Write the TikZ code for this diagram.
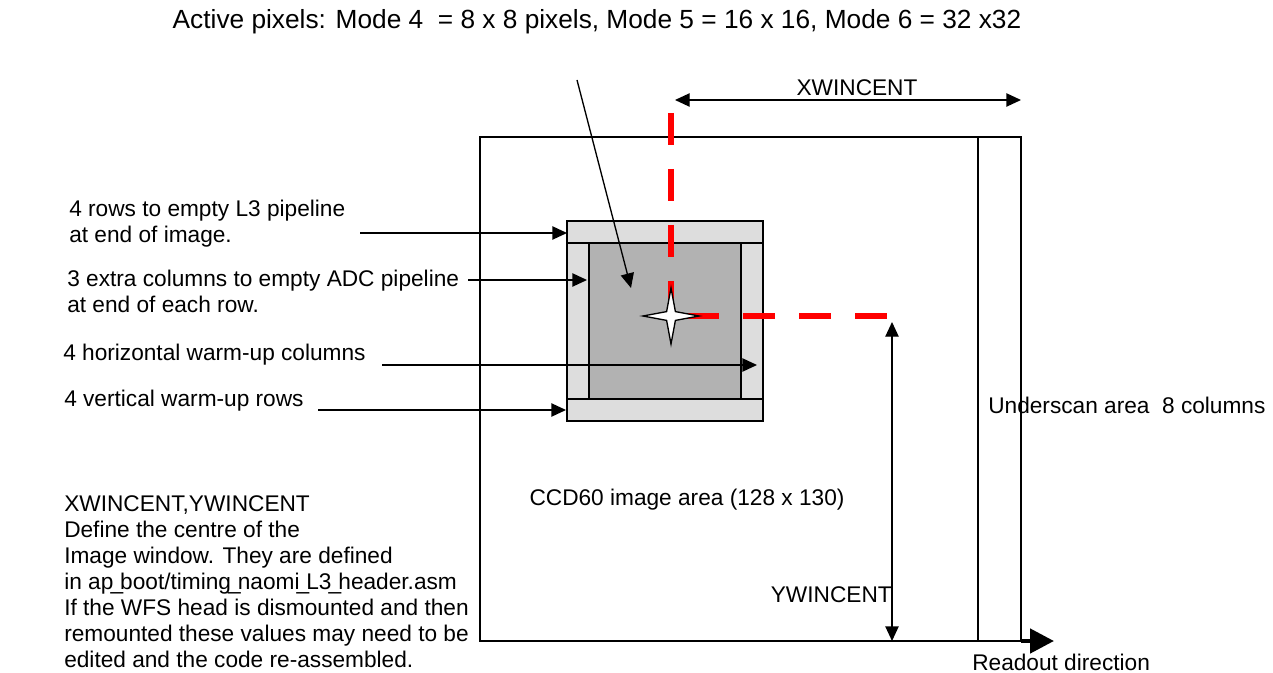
\documentclass[tikz,border=0pt]{standalone}
\usepackage{fontspec}
\setmainfont{Liberation Sans}
\usetikzlibrary{arrows.meta,positioning,calc,shapes.geometric}
\definecolor{stripgrey}{HTML}{DDDDDD}
\definecolor{activegrey}{HTML}{B2B2B2}
\definecolor{centrered}{HTML}{FF0000}
\newcommand{\txtsize}{\fontsize{17}{19.5}\selectfont}
\newcommand{\headsize}{\fontsize{19.7}{22}\selectfont}
\newcommand{\usc}{\makebox[0.3em]{\_}}

\begin{document}
\begin{tikzpicture}[x=0.75pt,y=-0.75pt,>={Triangle[length=11pt,width=10pt]},
  every node/.style={font=\txtsize,inner sep=0pt},
  winbox/.style={draw,line width=1pt},
  reddash/.style={centrered,line width=5pt,dash pattern=on 24pt off 18pt},
  pointer/.style={->,line width=1pt}]
\useasboundingbox (0,0) rectangle (1273,673);
% CCD image area and underscan columns
\draw[line width=1.4pt] (480,137) rectangle (978,641);
\draw[line width=1.4pt] (978,137) rectangle (1021,641);
% Image window
\draw[winbox,fill=stripgrey] (567,221) rectangle (763,421);
\draw[winbox] (567,243) -- (763,243) (567,399) -- (763,399);
\draw[winbox,fill=activegrey] (589,243) rectangle (741,399);
% Window centre
\coordinate (centre) at (671,316);
\coordinate (xtop) at (671,113);
\coordinate (yright) at (887,316);
\draw[reddash] (xtop) -- (centre);
\draw[reddash,dash phase=30pt] (centre) -- (yright);
\node[star,star points=4,star point ratio=4.5,minimum size=42pt,draw,fill=white,line width=1pt] (star) at (centre) {};
% Active pixels
\node[font=\headsize] (activelbl) at (597,22) {Active pixels: Mode 4\ \ = 8 x 8 pixels, Mode 5 = 16 x 16, Mode 6 = 32 x32};
\coordinate (activefrom) at (577,80);
\coordinate (activeto) at (631,288);
\draw[pointer] (activefrom) -- (activeto);
% XWINCENT
\coordinate (xwinl) at (675,100);
\coordinate (xwinr) at (1021,100);
\draw[<->,line width=1pt] (xwinl) -- (xwinr);
\node (xwinlbl) at (857,88) {XWINCENT};
% YWINCENT
\coordinate (ywint) at (892,322);
\coordinate (ywinb) at (892,641);
\draw[<->,line width=1pt] (ywint) -- (ywinb);
\node[anchor=east] (ywinlbl) at (892,595) {YWINCENT};
% Readout
\coordinate (readfrom) at (1021,641);
\coordinate (readto) at (1054,641);
\draw[-{Triangle[length=18pt,width=18pt]},line width=3.5pt] (readfrom) -- (readto);
\node[anchor=west] (readlbl) at (972,662) {Readout direction};
% Area labels
\node[anchor=west] (underlbl) at (988,405) {Underscan area\ \ 8 columns};
\node (ccdlbl) at (687,500) {CCD60 image area (128 x 130)};
% Window labels
\node[anchor=west,align=left] (rowslbl) at (69,224) {4 rows to empty L3 pipeline\\at end of image.};
\node[anchor=west,align=left] (colslbl) at (67,291) {3 extra columns to empty ADC pipeline\\at end of each row.};
\node[anchor=west] (hwarmlbl) at (63,355) {4 horizontal warm-up columns};
\node[anchor=west] (vwarmlbl) at (64,401) {4 vertical warm-up rows};
\coordinate (rowsfrom) at (360,233);
\coordinate (rowsto) at (567,233);
\coordinate (colsfrom) at (468,280);
\coordinate (colsto) at (587,280);
\coordinate (hwarmfrom) at (382,365);
\coordinate (hwarmto) at (757,365);
\coordinate (vwarmfrom) at (318,410);
\coordinate (vwarmto) at (566,410);
\draw[pointer] (rowsfrom) -- (rowsto);
\draw[pointer] (colsfrom) -- (colsto);
\draw[pointer] (hwarmfrom) -- (hwarmto);
\draw[pointer] (vwarmfrom) -- (vwarmto);
% Note
\node[anchor=north west,align=left] (notelbl) at (64,495) {XWINCENT,YWINCENT\\Define the centre of the\\Image window. They are defined\\in ap\usc boot/timing\usc naomi\usc L3\usc header.asm\\If the WFS head is dismounted and then\\remounted these values may need to be\\edited and the code re-assembled.};
\end{tikzpicture}
\end{document}
